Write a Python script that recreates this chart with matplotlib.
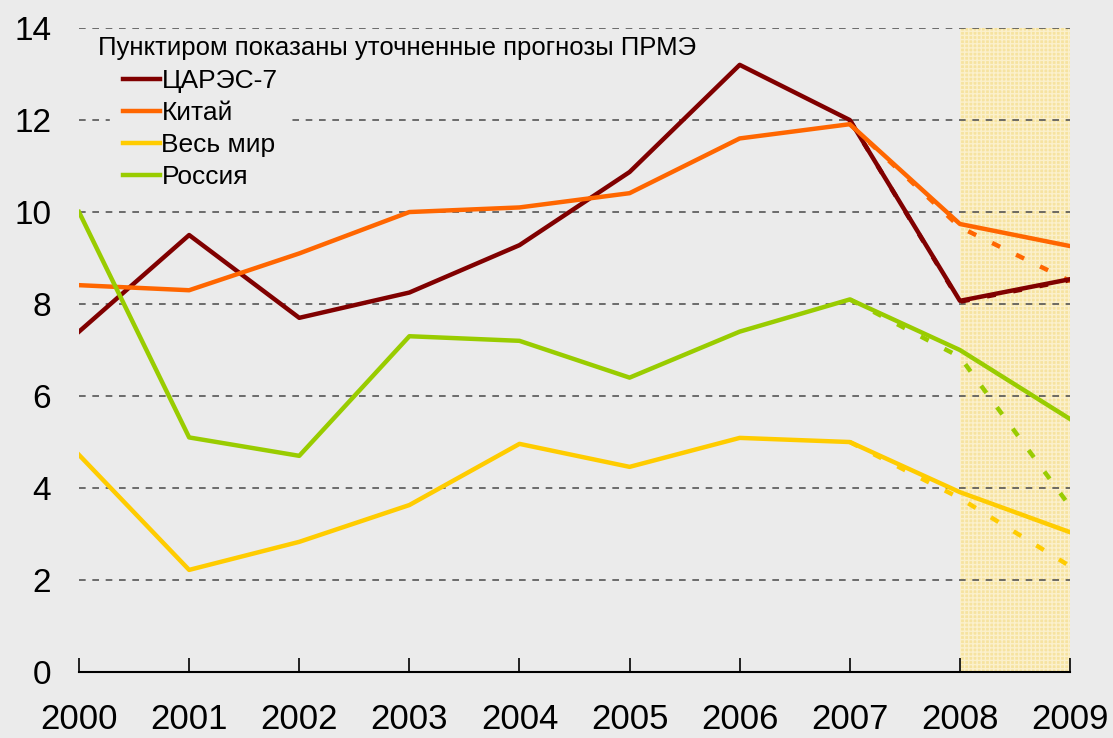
import matplotlib.pyplot as plt

plt.rcParams["font.family"] = ["Liberation Sans", "DejaVu Sans"]

years = [2000, 2001, 2002, 2003, 2004, 2005, 2006, 2007, 2008, 2009]
fc_years = [2007, 2008, 2009]

# actual / revised series
cares7 = [7.4, 9.5, 7.7, 8.25, 9.28, 10.87, 13.2, 12.0, 8.07, 8.54]
china = [8.41, 8.3, 9.1, 10.0, 10.1, 10.41, 11.6, 11.91, 9.74, 9.26]
world = [4.72, 2.22, 2.83, 3.63, 4.96, 4.46, 5.09, 5.0, 3.91, 3.04]
russia = [10.0, 5.1, 4.7, 7.3, 7.2, 6.4, 7.4, 8.1, 7.0, 5.5]

# dotted: refined forecasts
cares7_fc = [12.0, 8.05, 8.52]
china_fc = [11.91, 9.67, 8.5]
world_fc = [5.0, 3.78, 2.3]
russia_fc = [8.1, 6.85, 3.6]

names = ["ЦАРЭС-7", "Китай", "Весь мир", "Россия"]
colors = ["#800000", "#FF6600", "#FFCC00", "#99CC00"]

bg = "#EBEBEB"
fig = plt.figure(figsize=(11.13, 7.38), dpi=100)
fig.patch.set_facecolor(bg)
ax = fig.add_axes([0.071, 0.0894, 0.8904, 0.8726])
ax.set_facecolor(bg)

# forecast period shading
ax.axvspan(2008, 2009, facecolor="#F6E3A0", edgecolor="#FBF0CC",
           hatch="++++", linewidth=0, zorder=1)

for y in range(2, 15, 2):
    ax.axhline(y, color="#555555", linestyle=(0, (4, 4)), linewidth=1.2, zorder=2)

solid = [cares7, china, world, russia]
dotted = [cares7_fc, china_fc, world_fc, russia_fc]
for name, c, s, d in zip(names, colors, solid, dotted):
    ax.plot(fc_years, d, color=c, linewidth=3.2, linestyle=(0, (2, 4)), zorder=3)
    ax.plot(years, s, color=c, linewidth=3.2, label=name, zorder=4)

ax.set_xlim(2000, 2009)
ax.set_ylim(0, 14)
ax.set_xticks(years)
ax.set_yticks(range(0, 15, 2))
ax.tick_params(axis="x", direction="in", length=10, width=1.2, pad=22, labelsize=25)
ax.tick_params(axis="y", length=0, pad=20, labelsize=24)
for s in ["top", "right", "left"]:
    ax.spines[s].set_visible(False)
ax.spines["bottom"].set_linewidth(1.5)

fig.text(98 / 1113, 1 - 48 / 738, "Пунктиром показаны уточненные прогнозы ПРМЭ",
         fontsize=18.5, ha="left", va="center", zorder=6)

leg = ax.legend(loc="upper left", bbox_to_anchor=(110 / 1113, 1 - 56 / 738),
                bbox_transform=fig.transFigure, borderaxespad=0, frameon=True,
                fontsize=19, handlelength=1.4, handletextpad=0.05,
                labelspacing=0.3, borderpad=0.5)
leg.get_frame().set_facecolor(bg)
leg.get_frame().set_edgecolor(bg)
leg.get_frame().set_alpha(1)
leg.get_frame().set_boxstyle("square", pad=0)
leg.set_zorder(5)

fig.savefig("out.png", facecolor=fig.get_facecolor())
